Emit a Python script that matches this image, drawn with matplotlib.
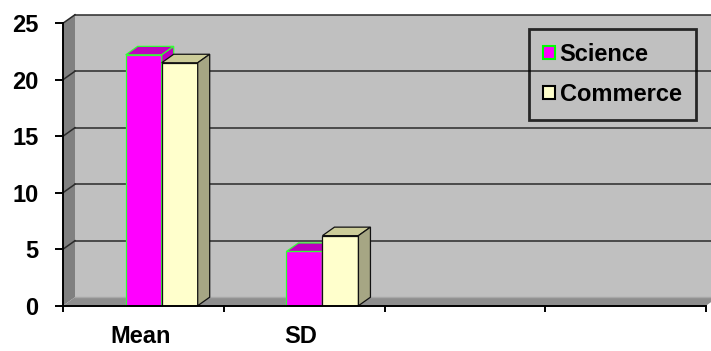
import numpy as np
import matplotlib
matplotlib.use('Agg')
import matplotlib.pyplot as plt
from matplotlib.patches import Polygon, Patch

# data
categories = ['Mean', 'SD', '', '']
science = [22.2, 4.8]
commerce = [21.5, 6.2]
series_names = ['Science', 'Commerce']
yticks = [0, 5, 10, 15, 20, 25]

plt.rcParams['font.family'] = ['Liberation Sans', 'DejaVu Sans']
plt.rcParams['font.weight'] = 'bold'

W, H = 711, 351
px_x = 160.75          # pixels per category
px_y = 11.3            # pixels per unit
x0, y0 = 63, 305.7     # origin in pixels (from top-left)
ytop = 26
xmax = (W - x0) / px_x
dx, dy = 12 / px_x, 8.5 / px_y   # 3d depth offset in data units

fig = plt.figure(figsize=(W / 100, H / 100), dpi=100)
ax = fig.add_axes([x0 / W, (H - y0) / H, (W - x0) / W, ytop * px_y / H])
ax.set_xlim(0, xmax)
ax.set_ylim(0, ytop)
ax.patch.set_visible(False)

# walls and floor
ax.add_patch(Polygon([(dx, dy), (xmax + 1, dy), (xmax + 1, 25 + dy), (dx, 25 + dy)],
                     closed=True, facecolor='#C0C0C0', edgecolor='none', zorder=0, clip_on=False))
ax.add_patch(Polygon([(0, 0), (0, 25), (dx, 25 + dy), (dx, dy)],
                     closed=True, facecolor='#808080', edgecolor='none', zorder=0, clip_on=False))
ax.add_patch(Polygon([(0, 0), (4, 0), (4 + dx, dy), (dx, dy)],
                     closed=True, facecolor='#8E8E8E', edgecolor='none', zorder=0, clip_on=False))
ax.plot([dx, xmax + 1], [dy, dy], color='#A8A8A8', lw=1, zorder=1, clip_on=False)

# gridlines on back wall and side wall
for v in yticks[1:]:
    ax.plot([dx, xmax + 1], [v + dy, v + dy], color='#2a2a2a', lw=1.1, zorder=1, clip_on=False)
    ax.plot([0, dx], [v, v + dy], color='#2a2a2a', lw=1.1, zorder=1, clip_on=False)


def bar3d(left, width, height, front, top, side, edge, lw, z):
    ax.bar(left, height, width, align='edge', color=front, edgecolor=edge, linewidth=lw, zorder=z)
    r = left + width
    ax.add_patch(Polygon([(left, height), (r, height), (r + dx, height + dy), (left + dx, height + dy)],
                         closed=True, facecolor=top, edgecolor=edge, lw=lw, zorder=z, clip_on=False))
    ax.add_patch(Polygon([(r, 0), (r, height), (r + dx, height + dy), (r + dx, dy)],
                         closed=True, facecolor=side, edgecolor=edge, lw=lw, zorder=z, clip_on=False))


bw = 0.224
for i in range(len(science)):
    bar3d(i + 0.39, bw, science[i], '#FF00FF', '#C000C0', '#C000C0', '#33FF33', 0.9, 3 + 2 * i)
    bar3d(i + 0.39 + bw, bw, commerce[i], '#FFFFCC', '#CCCC99', '#A6A684', '#111111', 0.9, 4 + 2 * i)

# axes
for s in ['top', 'right']:
    ax.spines[s].set_visible(False)
ax.spines['left'].set_bounds(0, 25)
ax.spines['bottom'].set_bounds(0, 4)
ax.spines['left'].set_linewidth(1.4)
ax.spines['bottom'].set_linewidth(1.4)
ax.spines['left'].set_zorder(6)
ax.spines['bottom'].set_zorder(6)

ax.set_yticks(yticks)
ax.set_yticklabels([str(t) for t in yticks], fontsize=17, fontweight='bold')
ax.tick_params(axis='y', direction='out', length=5.5, width=1.4, pad=12)

ax.set_xticks(range(len(categories) + 1))
ax.set_xticklabels([])
ax.tick_params(axis='x', which='major', direction='out', length=4.3, width=1.4)
ax.set_xticks(np.arange(len(categories)) + 0.48, minor=True)
ax.set_xticklabels(categories, minor=True, fontsize=17, fontweight='bold')
ax.tick_params(axis='x', which='minor', length=0, pad=14)

handles = [Patch(facecolor='#FF00FF', edgecolor='#00FF00', linewidth=1.5),
           Patch(facecolor='#FFFFCC', edgecolor='black', linewidth=1.5)]
leg = ax.legend(handles, series_names, loc='upper left', bbox_to_anchor=(0.719, 0.942),
                prop={'size': 17, 'weight': 'bold'}, frameon=True, fancybox=False,
                handlelength=0.5, handleheight=0.5, handletextpad=0.2,
                labelspacing=0.7, borderpad=0.6, borderaxespad=0)
leg.get_frame().set_facecolor('none')
leg.get_frame().set_edgecolor('black')
leg.get_frame().set_linewidth(2)
leg.set_zorder(10)

fig.savefig('out.png', dpi=100)
